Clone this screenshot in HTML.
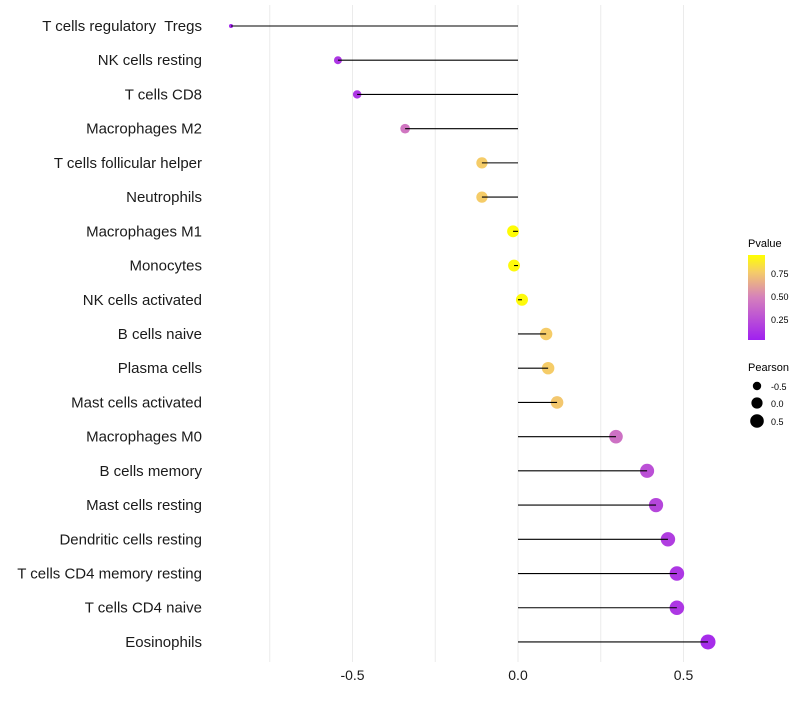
<!DOCTYPE html>
<html><head><meta charset="utf-8"><style>
body{margin:0;background:#fff;font-family:"Liberation Sans",sans-serif}
svg text{font-family:"Liberation Sans",sans-serif}
</style></head><body>
<svg id="chart" width="800" height="700" xmlns="http://www.w3.org/2000/svg">
<defs><linearGradient id="pg" x1="0" y1="1" x2="0" y2="0">
<stop offset="0" stop-color="#a020f0"/><stop offset="0.5" stop-color="#d580bc"/><stop offset="0.8" stop-color="#f5cc68"/><stop offset="1" stop-color="#ffff00"/></linearGradient></defs>
<g id="grid"></g>
<g id="marks"></g>
<g id="ylabels"></g>
<g id="xlabels"></g>
<g>
<text x="748" y="247" font-size="11" fill="#000">Pvalue</text>
<rect x="748" y="255" width="17" height="85" fill="url(#pg)"/>
<text x="771" y="277" font-size="9">0.75</text>
<text x="771" y="300" font-size="9">0.50</text>
<text x="771" y="323" font-size="9">0.25</text>
</g>
<g>
<text x="748" y="371" font-size="11">Pearson</text>
<circle cx="757" cy="386" r="4.2" fill="#000"/><text x="771" y="390" font-size="9">-0.5</text>
<circle cx="757" cy="403" r="5.6" fill="#000"/><text x="771" y="407" font-size="9">0.0</text>
<circle cx="757" cy="421" r="6.8" fill="#000"/><text x="771" y="425" font-size="9">0.5</text>
</g>
</svg>
<script>
const categories=["T cells regulatory  Tregs","NK cells resting","T cells CD8","Macrophages M2","T cells follicular helper","Neutrophils","Macrophages M1","Monocytes","NK cells activated","B cells naive","Plasma cells","Mast cells activated","Macrophages M0","B cells memory","Mast cells resting","Dendritic cells resting","T cells CD4 memory resting","T cells CD4 naive","Eosinophils"];
const pearson=[-0.867,-0.544,-0.486,-0.341,-0.109,-0.109,-0.015,-0.012,0.012,0.085,0.091,0.118,0.296,0.39,0.417,0.453,0.48,0.48,0.574];
const pvalue=[0.03,0.12,0.12,0.45,0.8,0.8,0.99,0.98,0.98,0.8,0.8,0.78,0.42,0.25,0.2,0.15,0.12,0.12,0.06];
const xTicks=[-0.5,0,0.5];
const xTickLabels=["-0.5","0.0","0.5"];
const xGrid=[-0.75,-0.5,-0.25,0,0.25,0.5];
const NS="http://www.w3.org/2000/svg";
const x=v=>518+v*331;
const y=i=>26+i*34.22;
const stops=[[0,[160,32,240]],[0.5,[213,128,188]],[0.8,[245,204,104]],[1,[255,255,0]]];
function col(p){p=Math.max(0,Math.min(1,p));for(let k=1;k<stops.length;k++){if(p<=stops[k][0]){const a=stops[k-1],b=stops[k],t=(p-a[0])/(b[0]-a[0]);return "rgb("+a[1].map((c,j)=>Math.round(c+(b[1][j]-c)*t)).join(",")+")";}}return "rgb(255,255,0)";}
function rad(v){return Math.sqrt(Math.max(3,35.6+36.3*v));}
function mk(t,a,par){const e=document.createElementNS(NS,t);for(const k in a)e.setAttribute(k,a[k]);par.appendChild(e);return e;}
const grid=document.getElementById('grid'),marks=document.getElementById('marks'),yl=document.getElementById('ylabels'),xl=document.getElementById('xlabels');
xGrid.forEach(v=>{const l=mk('line',{x1:x(v),x2:x(v),y1:5,y2:662,stroke:'#ebebeb','stroke-width':1},grid);

});
categories.forEach((c,i)=>{
const t=mk('text',{x:202,y:y(i)+5,'text-anchor':'end','font-size':15,fill:'#1a1a1a','xml:space':'preserve'},yl);t.textContent=c;
t.style.whiteSpace='pre';


const d=mk('circle',{cx:x(pearson[i]),cy:y(i),r:rad(pearson[i]),fill:col(pvalue[i])},marks);


const l=mk('line',{x1:x(0),x2:x(pearson[i]),y1:y(i),y2:y(i),stroke:'#000','stroke-width':1.1},marks);


});
xTicks.forEach((v,i)=>{const t=mk('text',{x:x(v),y:680,'text-anchor':'middle','font-size':14,fill:'#1a1a1a'},xl);t.textContent=xTickLabels[i];

});
</script>
</body></html>
